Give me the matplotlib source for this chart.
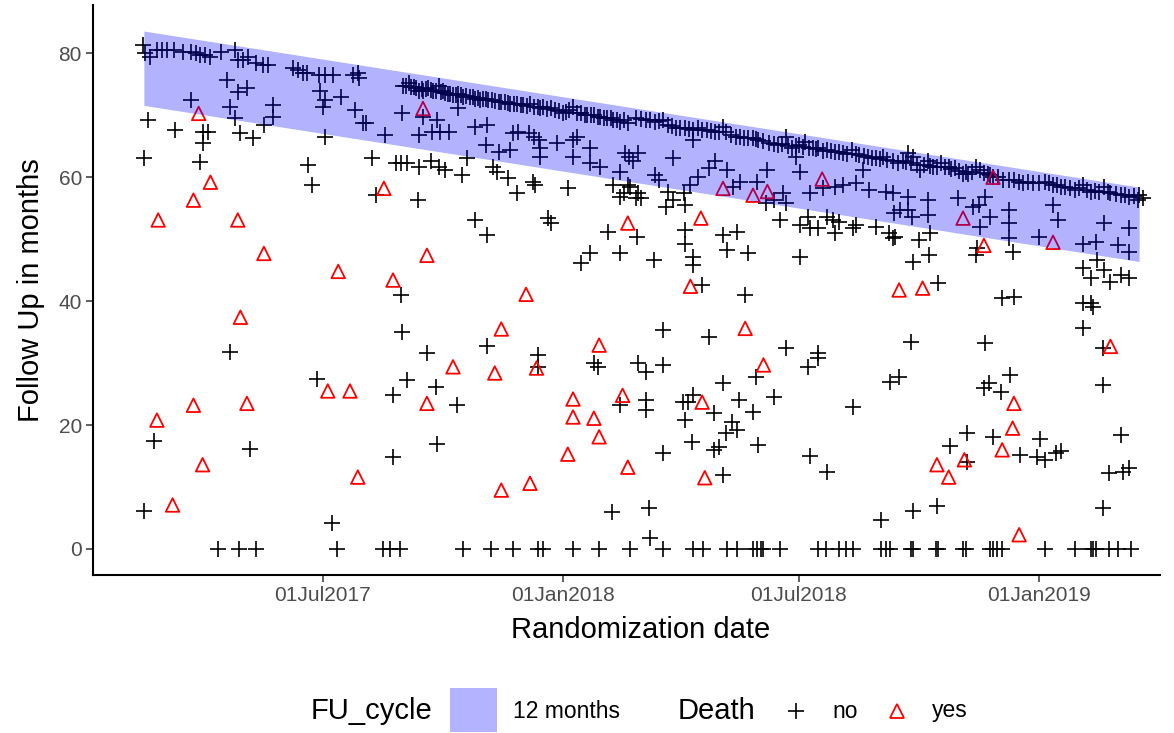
import numpy as np
import pandas as pd
import matplotlib
matplotlib.use('Agg')
import matplotlib.pyplot as plt
import matplotlib.dates as mdates
from matplotlib.patches import Rectangle
from matplotlib.lines import Line2D

plt.rcParams['font.family'] = ['Liberation Sans', 'DejaVu Sans']

# randomization day = days since 2017-01-01, follow up in months
START = pd.Timestamp('2017-01-01')

# patients alive at cut-off (upper line)
alive_day = [43, 45, 49, 54, 58, 62, 67, 74, 80, 84, 87, 91, 95, 103, 114, 116, 120, 124, 130, 135, 139,
             158, 162, 166, 169, 178, 183, 189, 204, 208, 209,
             243, 247, 251, 255, 258, 262, 266, 270, 273, 277, 281, 285, 289, 294, 298, 302, 306, 311, 316,
             321, 325, 330, 335, 340, 346, 350, 356, 365, 370, 373, 379, 384, 389, 394, 399, 404, 409, 415,
             421, 429, 436, 442, 446, 452, 459, 465, 469, 476, 482, 488, 490, 498, 504, 511, 515, 523, 530,
             536, 541, 546, 551, 557, 561, 568, 574, 580, 587, 592, 599, 605, 611, 618,
             622, 626, 630, 634, 639, 645, 649, 655, 661, 666, 672, 676, 682, 685, 691, 695, 703, 715, 718,
             730, 735, 741, 747, 758, 764, 770, 776, 780, 785, 793, 799, 807, 810,
             245, 249, 253, 257, 260, 264, 268, 272, 275, 279, 283, 287, 291, 296, 300, 304, 308, 313, 318,
             323, 328, 333, 338, 343, 348, 353, 359, 362, 368, 376, 382, 387, 392, 397, 402, 407, 412,
             425, 432, 439, 449, 455, 462, 472, 479, 485, 494, 501, 507, 513, 519, 527, 533, 538, 544, 549,
             554, 559, 565, 571, 577, 583, 590, 596, 602, 608, 614,
             628, 632, 637, 642, 647, 652, 658, 663, 669, 674, 679, 688, 693, 699, 707, 711, 722, 726, 738,
             744, 750, 754, 761, 767, 773, 783, 789, 796, 803]
alive_fu = [81.3, 80.0, 79.4, 80.5, 80.5, 80.5, 80.5, 80.2, 80.2, 80.0, 79.7, 79.7, 79.4, 80.2, 80.5, 78.9, 78.9, 79.4, 78.4, 78.1, 78.1,
            77.6, 77.3, 76.9, 76.9, 76.5, 76.5, 76.5, 76.5, 76.8, 76.0,
            74.8, 75.2, 74.5, 74.0, 74.0, 74.4, 74.0, 74.8, 74.0, 73.5, 73.2, 73.5, 72.9, 72.9, 72.7, 72.4, 72.7, 72.4, 72.1,
            72.1, 71.9, 71.9, 71.6, 71.9, 71.3, 71.3, 71.1, 70.3, 70.8, 71.3, 70.3, 70.0, 70.0, 69.7, 69.5, 69.2, 68.9, 68.7,
            69.5, 69.2, 68.9, 69.2, 68.4, 67.9, 67.9, 67.6, 67.9, 67.6, 67.3, 68.1, 67.3, 66.5, 66.3, 66.3, 66.0, 65.5, 65.2,
            66.5, 64.8, 65.2, 65.7, 64.8, 64.7, 64.4, 64.0, 63.9, 64.4, 63.6, 63.2, 63.1, 63.2, 62.7,
            62.3, 62.7, 63.9, 63.2, 61.1, 62.7, 61.6, 62.3, 61.6, 61.5, 60.6, 60.6, 61.6, 61.1, 60.6, 60.0, 59.5, 59.2, 59.0,
            59.0, 59.2, 58.7, 58.4, 57.9, 58.7, 57.6, 57.6, 58.4, 57.4, 57.1, 56.8, 57.1, 56.6,
            74.8, 74.6, 74.4, 74.3, 74.2, 74.1, 73.9, 73.8, 73.6, 73.5, 73.3, 73.2, 73.1, 72.9, 72.8, 72.6, 72.5, 72.3, 72.2,
            72.0, 71.8, 71.7, 71.5, 71.4, 71.2, 71.0, 70.9, 70.7, 70.6, 70.3, 70.1, 70.0, 69.8, 69.6, 69.5, 69.3, 69.2,
            69.4, 69.3, 69.0, 68.3, 68.0, 67.8, 67.6, 67.4, 67.3, 66.8, 66.5, 66.3, 66.1, 65.8, 65.4, 65.3, 65.1, 65.0, 64.9,
            64.8, 64.6, 64.3, 64.2, 64.0, 63.8, 63.7, 63.4, 63.1, 63.0, 62.8,
            62.5, 62.3, 62.0, 62.0, 61.8, 61.7, 61.6, 61.4, 61.0, 60.8, 60.9, 60.7, 60.3, 60.0, 59.6, 59.5, 59.2, 59.1, 59.0,
            58.7, 58.5, 58.2, 58.2, 57.9, 57.8, 57.6, 57.3, 57.1, 56.9]

# other patients without death
no_day = [108, 116, 123, 80, 110, 114, 143, 143, 136, 179, 183, 181, 195, 206, 212, 47, 68, 89, 93, 89, 118, 128, 183, 44, 87, 170, 173,
          110, 177, 52, 125, 44, 188,
          242, 258, 269, 255, 265, 271, 278, 285, 229, 214, 298, 307, 306, 316, 325, 327, 331, 339, 343, 347, 348, 348, 361, 373, 376, 386, 373, 386, 394, 409, 416,
          219, 237, 241, 246, 255, 264, 270, 275, 288, 292, 312, 315, 323, 342, 344, 330, 369, 404, 415, 412, 254, 222,
          409, 298, 307, 354, 356, 400, 386, 379, 409, 241, 242, 261, 307, 346, 346, 389, 392, 246, 268,
          235, 284, 269, 235, 403, 409,
          465, 482, 491, 477, 469, 463, 450, 423, 419, 413, 436, 439, 522, 514, 501, 496, 547, 544, 555, 574, 580, 590, 595, 600, 613, 618, 565, 417, 423, 446, 458, 534,
          421, 425, 444, 450, 459, 422, 435, 459, 459, 465, 465, 472, 488, 499, 491, 507, 505, 532, 547, 553, 555, 561, 574, 588, 590,
          605, 615, 618, 547, 568, 572, 577, 521, 527, 536, 442, 477, 423, 429, 442, 536, 561, 561, 553, 513, 488, 616,
          429, 429, 457, 461, 465, 459, 481, 500, 511, 527, 495, 499, 490, 485, 481, 515, 464, 442, 488, 555, 568, 588, 431, 432, 609,
          619, 630, 630, 624, 633, 645, 645, 668, 680, 684, 689, 693, 685, 707, 707, 707, 710, 741, 745, 730, 780, 799, 764, 774, 791,
          799, 806, 620, 638, 647, 646, 634, 682, 683, 653, 702, 711, 764, 770, 775, 780, 785, 793, 799, 764, 770, 772, 764, 779, 632,
          689, 623, 708, 692, 779,
          688, 701, 675, 662, 675, 695, 731, 716, 729, 735, 743, 747, 793, 784, 795, 799, 634, 652, 779]
no_fu = [75.7, 73.7, 74.4, 72.4, 71.3, 69.5, 71.6, 69.7, 68.4, 74.0, 72.4, 71.3, 72.9, 70.8, 68.7, 69.2, 67.6, 67.3, 67.3, 65.5, 67.1, 66.3, 66.5, 63.1, 62.4, 61.9, 58.7,
         31.8, 27.4, 17.4, 16.1, 6.1, 4.2,
         70.3, 69.7, 69.2, 66.8, 67.3, 67.3, 67.3, 71.1, 66.8, 68.7, 68.1, 68.4, 65.2, 64.0, 64.4, 67.1, 67.3, 67.1, 66.5, 66.0, 64.8, 63.2, 65.5, 66.0, 66.5, 64.8, 63.2, 62.3, 61.6, 60.8, 63.2,
         63.1, 62.3, 62.3, 62.3, 61.6, 62.7, 61.6, 61.1, 60.3, 63.1, 61.6, 60.8, 59.8, 59.2, 58.7, 57.4, 58.2, 58.7, 58.7, 57.4, 56.3, 57.1,
         56.8, 53.1, 50.6, 53.4, 52.6, 51.1, 47.7, 46.1, 47.7, 41.0, 35.0, 31.6, 32.7, 31.3, 29.4, 30.0, 29.4, 27.3, 26.1,
         24.8, 23.2, 16.9, 14.8, 6.0, 23.2,
         66.0, 62.7, 61.1, 61.5, 60.0, 58.7, 63.1, 63.9, 62.7, 63.9, 60.3, 59.5, 61.1, 59.2, 59.2, 58.4, 60.8, 63.2, 57.4, 58.4, 58.7, 59.0, 61.1, 57.9, 57.6, 57.4, 58.2, 58.4, 57.4, 57.6, 57.4, 57.4,
         56.6, 56.6, 55.2, 56.3, 55.5, 50.3, 46.6, 51.5, 49.3, 47.1, 45.8, 42.6, 50.6, 51.1, 48.2, 47.7, 41.0, 53.1, 52.3, 53.6, 51.8, 51.8, 51.0, 51.8, 52.3,
         51.9, 51.0, 50.2, 47.1, 53.6, 53.1, 52.7, 55.8, 56.3, 55.8, 35.3, 34.2, 30.0, 28.6, 29.7, 32.4, 31.6, 30.8, 29.4, 27.7, 26.8, 26.9,
         24.0, 22.4, 23.7, 23.7, 24.8, 20.8, 21.9, 24.0, 22.1, 24.5, 20.5, 19.2, 18.7, 16.5, 16.0, 16.8, 17.2, 15.5, 11.9, 15.0, 12.4, 22.9, 6.6, 1.8, 4.7,
         54.2, 56.8, 54.7, 54.7, 53.6, 56.3, 53.9, 56.6, 55.2, 55.5, 56.8, 53.6, 51.9, 54.7, 52.6, 50.2, 47.9, 55.5, 53.1, 50.3, 52.6, 51.8, 49.3, 49.5, 49.0,
         47.9, 56.3, 50.3, 49.8, 51.0, 47.4, 46.3, 47.4, 48.5, 42.9, 40.5, 40.6, 45.3, 43.7, 46.6, 45.0, 43.1, 44.2, 43.7, 39.7, 39.7, 39.0, 35.6, 32.4, 33.4,
         33.2, 27.7, 28.1, 26.8, 26.5,
         26.0, 25.3, 18.7, 16.6, 14.0, 18.1, 17.7, 15.2, 14.8, 14.4, 15.5, 15.8, 18.4, 12.3, 12.4, 13.1, 6.1, 6.9, 6.6]

# patients with zero follow up
zero_day = [101, 117, 130, 192, 227, 233, 240, 289, 310, 327, 346, 350, 373, 393, 417,
            442, 465, 473, 491, 499, 511, 514, 517, 519, 532, 561, 567, 577, 582, 588, 609, 613, 616,
            632, 634, 651, 653, 672, 674, 693, 695, 698, 702, 735, 758, 770, 772, 774, 784, 791, 801]

# deaths
yes_day = [86, 95, 82, 55, 116, 136, 193, 118, 185, 202, 82, 123, 54, 89, 208, 66,
           258, 228, 415, 261, 235, 337, 318, 393, 281, 313, 345,
           261, 373, 373, 389, 393, 369, 340, 318, 415, 411,
           488, 522, 564, 511, 471, 463, 505, 519, 472, 474,
           695, 672, 688, 741, 623, 641, 785,
           711, 710, 702, 673, 652, 661, 715]
yes_fu = [70.3, 59.2, 56.3, 53.1, 53.1, 47.7, 44.8, 37.4, 25.5, 25.5, 23.2, 23.5, 20.8, 13.6, 11.6, 7.1,
          71.1, 58.2, 52.6, 47.4, 43.4, 41.1, 35.5, 32.9, 29.4, 28.4, 29.2,
          23.5, 24.2, 21.3, 21.1, 18.1, 15.3, 10.6, 9.5, 13.2, 24.8,
          58.2, 57.7, 59.7, 57.1, 53.4, 42.4, 35.6, 29.7, 23.7, 11.5,
          60.0, 53.4, 49.0, 49.5, 41.8, 42.1, 32.7,
          23.5, 19.5, 16.0, 14.4, 13.6, 11.6, 2.3]

# 12 months follow-up cycle band
band_day = [44, 807]
band_lo = [71.6, 46.4]
band_hi = [83.6, 58.4]

x_ticks = ['2017-07-01', '2018-01-01', '2018-07-01', '2019-01-01']
y_ticks = [0, 20, 40, 60, 80]


def to_date(days):
    return START + pd.to_timedelta(np.asarray(days, dtype=float), unit='D')


W, H = 1174, 733
fig = plt.figure(figsize=(W / 100, H / 100), dpi=100)
ax = fig.add_axes([93 / W, 1 - 575 / H, (1160 - 93) / W, (575 - 5) / H])

plus_kw = dict(marker='+', s=125, c='black', linewidths=1.2, zorder=2)
ax.scatter(to_date(alive_day), alive_fu, **plus_kw)
ax.scatter(to_date(no_day), no_fu, **plus_kw)
ax.scatter(to_date(zero_day), np.zeros(len(zero_day)), **plus_kw)
ax.scatter(to_date(yes_day), yes_fu, marker='^', s=95, facecolors='none',
           edgecolors='red', linewidths=1.3, zorder=2)

# band drawn on top (semi transparent)
ax.fill_between(to_date(band_day), band_lo, band_hi, color='blue', alpha=0.3, lw=0, zorder=3)

ax.set_xlim(to_date([5])[0], to_date([823])[0])
ax.set_ylim(-4.2, 87.8)
ax.set_xticks(pd.to_datetime(x_ticks))
ax.xaxis.set_major_formatter(mdates.DateFormatter('%d%b%Y'))
ax.set_yticks(y_ticks)

for side in ['top', 'right']:
    ax.spines[side].set_visible(False)
for side in ['left', 'bottom']:
    ax.spines[side].set_linewidth(1.5)
ax.tick_params(length=5, width=1.1, color='#333333', labelsize=15, labelcolor='#4D4D4D', pad=3)

ax.set_xlabel('Randomization date', fontsize=21, labelpad=8)
ax.xaxis.label.set_x(0.513)
ax.set_ylabel('Follow Up in months', fontsize=21, labelpad=10)

# legend at the bottom
fy = 1 - 711 / H
fig.text(311 / W, fy, 'FU_cycle', fontsize=21, va='center', ha='left')
fig.add_artist(Rectangle((450 / W, 1 - 732 / H), 47 / W, 44 / H, transform=fig.transFigure,
                         facecolor='#b3b3ff', edgecolor='none'))
fig.text(513 / W, fy, '12 months', fontsize=16.5, va='center', ha='left')
fig.text(678 / W, fy, 'Death', fontsize=21, va='center', ha='left')
fig.add_artist(Line2D([796 / W], [fy], marker='+', ms=11, mew=1.2, color='black',
                      transform=fig.transFigure))
fig.text(832 / W, fy, 'no', fontsize=16.5, va='center', ha='left')
fig.add_artist(Line2D([897 / W], [fy], marker='^', ms=10, mew=1.3, color='red', mfc='none',
                      transform=fig.transFigure))
fig.text(932 / W, fy, 'yes', fontsize=16.5, va='center', ha='left')

fig.savefig('out.png', dpi=100)
